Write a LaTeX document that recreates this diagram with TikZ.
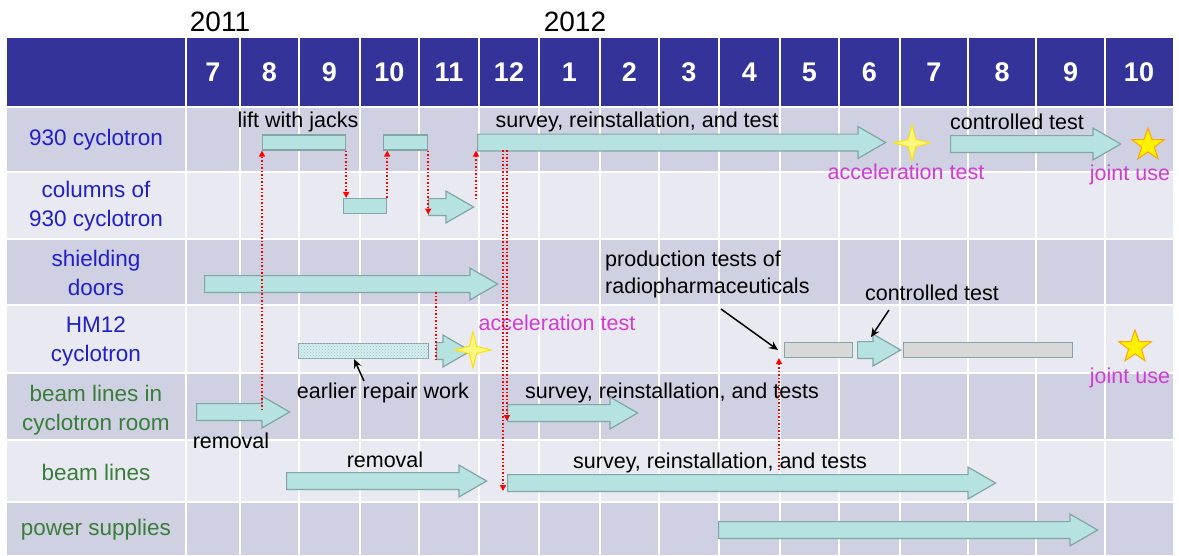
\documentclass[tikz,border=0pt]{standalone}
\usepackage{fontspec}
\setmainfont{Liberation Sans}
\usepackage{tikz}
\usetikzlibrary{arrows.meta,shapes.arrows,shapes.geometric,patterns}

\definecolor{hdrblue}{RGB}{51,51,153}
\definecolor{rowdark}{RGB}{207,208,226}
\definecolor{rowlight}{RGB}{232,233,241}
\definecolor{labblue}{RGB}{32,32,200}
\definecolor{labgreen}{RGB}{58,125,58}
\definecolor{barfill}{RGB}{182,226,226}
\definecolor{barline}{RGB}{130,165,165}
\definecolor{graybar}{RGB}{216,216,216}
\definecolor{evtpink}{RGB}{210,60,210}

\tikzset{
  month/.style={text=white, font=\fontsize{27}{30}\selectfont\bfseries},
  year/.style={font=\fontsize{28}{30}\selectfont},
  lab/.style={font=\fontsize{22.5}{29}\selectfont, align=center, text=labblue},
  lab2/.style={lab, text=labgreen},
  task/.style={font=\fontsize{21.5}{27}\selectfont, inner sep=0pt},
  evt/.style={task, text=evtpink},
  bar/.style={draw=barline, fill=barfill, line width=1.2pt, minimum height=15pt,
    minimum width=#1, inner sep=0pt, anchor=west},
  blockarr/.style={single arrow, draw=barline, fill=barfill, line width=1.2pt,
    inner xsep=0pt, inner ysep=7.8pt, text height=0pt, text depth=0pt,
    single arrow head extend=7.5pt, single arrow tip angle=60,
    minimum height=#1, anchor=tail},
  link/.style={red, dotted, line width=1.5pt, -{Triangle[length=6pt,width=6pt]}},
  note/.style={black, line width=1.5pt, -{Stealth[length=9pt,width=8pt]}},
  spark/.style={star, star points=4, star point ratio=3.5, minimum size=36pt,
    inner sep=0pt, draw=yellow!85!orange, fill=yellow!50, line width=1pt},
  gold/.style={star, star points=5, star point ratio=2.5, minimum size=34pt,
    inner sep=0pt, draw=orange!70!yellow, fill=yellow, line width=1pt},
  gridline/.style={white, line width=2pt}
}

\begin{document}
\begin{tikzpicture}[x=1pt,y=-1pt]
\useasboundingbox (0,0) rectangle (1179,555);
\fill[hdrblue] (7,38) rectangle (1173,106);
\foreach \ya/\yb/\c in {108/172/rowdark,172/239/rowlight,239/305/rowdark,305/373/rowlight,373/440/rowdark,440/502/rowlight,502/555/rowdark}
  \fill[\c] (7,\ya) rectangle (1173,\yb);
\foreach \xa in {186,240,299,360,419,479,539,600,659,719,780,839,900,968,1036,1105}
  \draw[gridline] (\xa,38) -- (\xa,555);
\foreach \ya in {172,239,305,373,440,502}
  \draw[gridline] (7,\ya) -- (1173,\ya);
\foreach \m/\xa/\xb [count=\i] in {7/186/240,8/240/299,9/299/360,10/360/419,11/419/479,12/479/539,1/539/600,2/600/659,3/659/719,4/719/780,5/780/839,6/839/900,7/900/968,8/968/1036,9/1036/1105,10/1105/1173}
  \node[month] (mon\i) at ({(\xa+\xb)/2},72) {\m};
\node[year] (y11) at (220,22) {2011};
\node[year] (y12) at (575,22) {2012};

\node[lab] (r1) at (96,140) {930 cyclotron};
\node[lab] (r2) at (96,206) {columns of\\930 cyclotron};
\node[lab] (r3) at (96,273) {shielding\\doors};
\node[lab] (r4) at (96,341) {HM12\\cyclotron};
\node[lab2] (r5) at (96,410) {beam lines in\\cyclotron room};
\node[lab2] (r6) at (96,472) {beam lines};
\node[lab2] (r7) at (96,530) {power supplies};

\node[task] (t1) at (298,122) {lift with jacks};
\node[bar=83pt] (jack) at (262,142.5) {};
\node[bar=44pt] (jack2) at (383,142.5) {};
\node[blockarr=408pt] (svy1) at (477,142.5) {};
\node[task] (t2) at (637,122) {survey, reinstallation, and test};
\node[spark] (acc1) at (912,143) {};
\node[evt] (e1) at (906,172) {acceleration test};
\node[blockarr=170pt] (ctl1) at (950,144) {};
\node[task] (t3) at (1017,122) {controlled test};
\node[gold] (jnt1) at (1148,145) {};
\node[evt] (e2) at (1130,175) {joint use};

\node[bar=43pt] (col1) at (343,206) {};
\node[blockarr=45pt] (col2) at (428,207) {};

\node[blockarr=293pt] (door) at (204,284) {};

\node[evt] (e3) at (557,323) {acceleration test};
\node[bar=130pt, fill=barfill!60!white, postaction={pattern=crosshatch dots, pattern color=barline!70}] (rep) at (298,351) {};
\node[blockarr=34pt] (hm1) at (436,351) {};
\node[spark] (acc2) at (473,350) {};
\node[task, align=left, anchor=west] (t4) at (605,274) {production tests of\\radiopharmaceuticals};
\node[task] (t5) at (932,293) {controlled test};
\node[bar=68pt, fill=graybar] (prod) at (784,350) {};
\node[blockarr=43pt] (hm2) at (857,350) {};
\node[bar=169pt, fill=graybar] (ctl2) at (903,350) {};
\node[gold] (jnt2) at (1135,347) {};
\node[evt] (e4) at (1130,378) {joint use};

\node[task] (t6) at (383,393) {earlier repair work};
\node[blockarr=93pt] (bl1) at (196,412) {};
\node[task] (t7) at (231,441) {removal};
\node[task] (t8) at (672,393) {survey, reinstallation, and tests};
\node[blockarr=130pt] (bl2) at (507,413) {};

\node[task] (t9) at (385,460) {removal};
\node[blockarr=200pt] (bl3) at (286,481) {};
\node[task] (t10) at (720,463) {survey, reinstallation, and tests};
\node[blockarr=488pt] (bl4) at (507,483) {};

\node[blockarr=379pt] (ps) at (718,530) {};

\coordinate (k1) at (262,410);
\coordinate (k2) at (476,199);
\coordinate (k3) at (503,150);
\coordinate (k4) at (507,150);
\coordinate (k5) at (436,292);
\coordinate (k6) at (779,470);
\coordinate (k7) at (364,381);
\coordinate (k8) at (721,309);
\coordinate (k9) at (889,310);
\coordinate (k10) at (871,337);
\draw[link] (k1) -- (jack.south west);
\draw[link] (jack.south east) -- (jack.south east |- col1.north);
\draw[link] (col1.north east) -- (col1.north east |- jack2.south);
\draw[link] (jack2.south east) -- ([yshift=-7.5pt]jack2.south east |- col2.tail);
\draw[link] (k2) -- (k2 |- jack.south);
\draw[link] (k4) -- ([yshift=-8pt]k4 |- bl2.tail);
\draw[link] (k3) -- ([yshift=-8pt]k3 |- bl4.tail);
\draw[red, dotted, line width=1.5pt] (k5) -- ([yshift=-8pt]k5 |- hm1.tail);
\draw[link] (k6) -- ([xshift=-5pt]prod.south west);
\draw[note] (k7) -- ([xshift=56pt]rep.south west);
\draw[note] (k8) -- ([xshift=-6pt]prod.west);
\draw[note] (k9) -- (k10);
\end{tikzpicture}
\end{document}
